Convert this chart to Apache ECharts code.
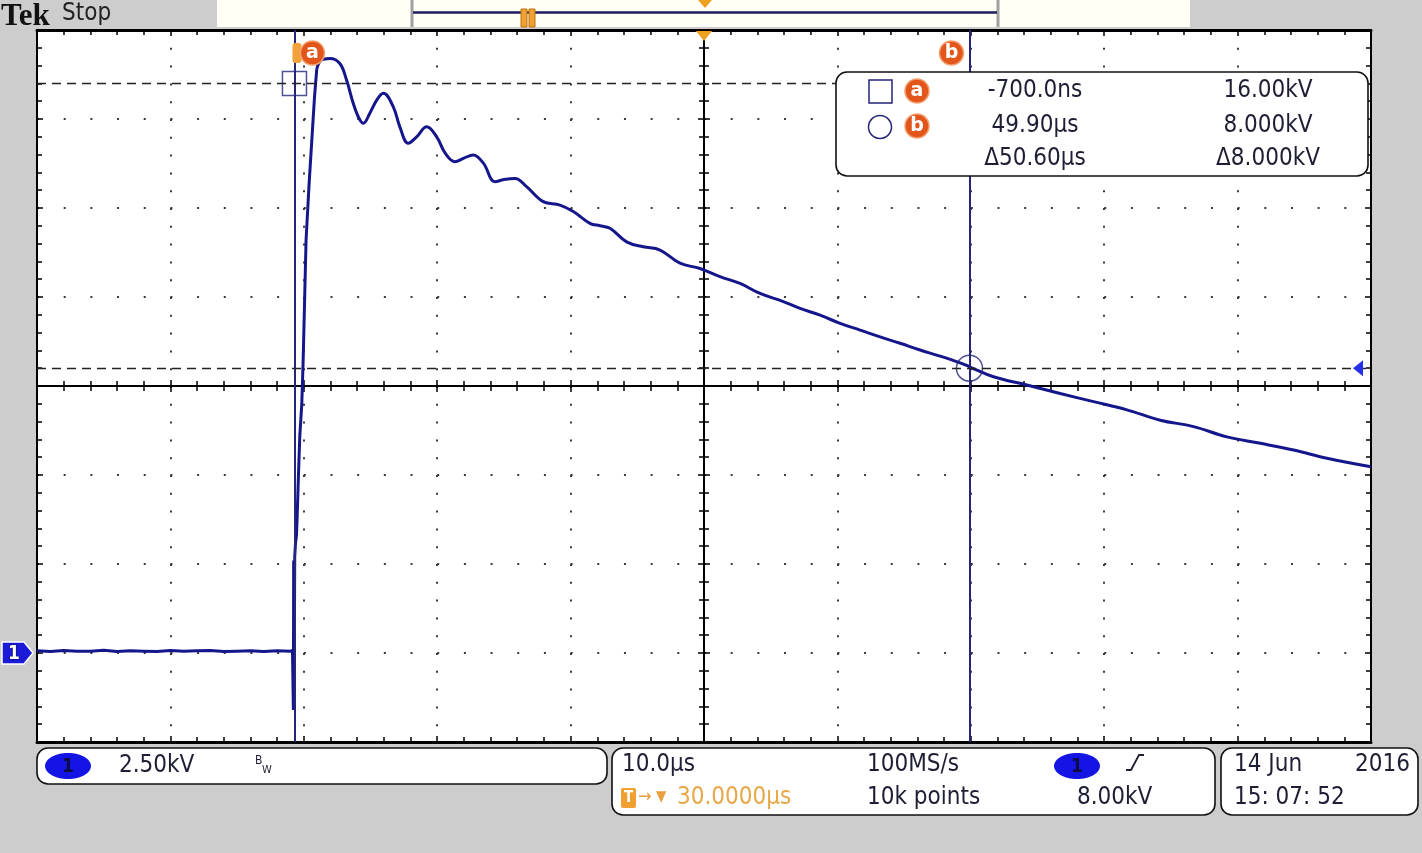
<!DOCTYPE html>
<html><head><meta charset="utf-8">
<script src="https://cdn.jsdelivr.net/npm/echarts@6/dist/echarts.min.js"></script>
<style>html,body{margin:0;padding:0;background:#cdcdcd;}#c{width:1422px;height:853px;}</style>
</head><body><div id="c"></div>
<script>
const timeUs = [-20,-19,-18,-17,-16,-15,-14,-13,-12,-11,-10,-9,-8,-7,-6,-5,-4,-3,-2,-1,-0.85,
 -0.8,-0.78,-0.76,-0.74,-0.72,-0.7,-0.68,-0.62,-0.55,-0.5,-0.4,-0.3,-0.15,-0.05,0.17,0.4,0.6,0.8,0.97,1.3,
 1.96,2.7,3.2,3.7,4.1,4.46,4.96,5.5,5.96,6.7,7.2,7.83,8.46,9.21,9.96,10.6,11.33,12.0,12.7,13.46,
 14.33,15.0,15.83,16.7,17.95,19.2,20.2,21.45,22.2,22.95,24.2,25.45,26.7,28.2,29.7,31.2,32.7,34.2,35.95,37.2,
 38.7,40.2,41.7,43.2,44.7,46.2,47.7,49.2,49.9,51.7,54.2,56.7,59.2,61.7,64.2,66.7,69.2,71.7,74.2,76.7,80];
const ch1Kv = [0.06,0.04,0.07,0.05,0.05,0.08,0.04,0.06,0.05,0.04,0.07,0.05,0.06,0.07,0.04,0.05,0.06,0.04,0.06,0.05,0.07,
 0.1,-1.6,2.6,0.8,2.4,1.0,2.7,3.1,3.3,3.8,5.0,6.1,7.0,8.2,11.6,13.2,14.4,15.6,16.4,16.65,
 16.7,16.56,16.1,15.45,15.05,14.88,15.17,15.55,15.72,15.35,14.78,14.32,14.5,14.78,14.5,14.04,13.8,13.9,13.99,13.76,
 13.24,13.3,13.33,13.1,12.68,12.58,12.4,12.07,12.0,11.93,11.55,11.41,11.32,10.95,10.8,10.57,10.38,10.1,9.87,9.68,
 9.49,9.26,9.07,8.88,8.7,8.51,8.34,8.15,8.04,7.76,7.53,7.29,7.06,6.83,6.54,6.36,6.07,5.89,5.7,5.47,5.23];
const edgeEndUs = 0.97; // end of the fast rising edge (drawn unsmoothed)
const cursorNames = ['a','b'];
const cursorTimeUs = [-0.7, 49.9];
const cursorKv = [16.0, 8.0];
const triggerTimeUs = 30;
const triggerLevelKv = 8.0;
const groundKv = 0;
const readoutTime = ['-700.0ns','49.90µs','Δ50.60µs'];
const readoutVolt = ['16.00kV','8.000kV','Δ8.000kV'];
const xRange = [-20, 80], xStep = 10;
const yRange = [-2.5, 17.5], yStep = 2.5;
const ch1Scale = '2.50kV';
const timebase = '10.0µs';
const triggerPosText = '30.0000µs';
const sampleRate = '100MS/s';
const recordLen = '10k points';
const trigLevelText = '8.00kV';
const dateText = ['14 Jun', '2016'];
const timeText = '15: 07: 52';

// ---- chart ----
const FONT = '"DejaVu Sans Condensed","Liberation Sans Narrow",sans-serif';
const TXT = '#1e1e34';
const WAVE = '#16168c';
const chart = echarts.init(document.getElementById('c'), null, {renderer:'canvas'});

function xAx(pos, offset, inside, split, lw) {
  return {type:'value', min:xRange[0], max:xRange[1], interval:xStep, position:pos, offset:offset,
    axisLine:{show:true, onZero:false, lineStyle:{color:'#000', width:lw}},
    axisTick:{show:true, inside:inside, length:6, lineStyle:{color:'#000', width:1.5}},
    minorTick:{show:true, splitNumber:5, length:5, lineStyle:{color:'#000', width:1.5}},
    axisLabel:{show:false},
    splitLine: split ? {show:true, lineStyle:{color:'#3a3a3a', width:2, type:[2,15.8]}} : {show:false},
    minorSplitLine:{show:false}};
}
function yAx(pos, offset, inside, split, lw) {
  return {type:'value', min:yRange[0], max:yRange[1], interval:yStep, position:pos, offset:offset,
    axisLine:{show:true, onZero:false, lineStyle:{color:'#000', width:lw}},
    axisTick:{show:true, inside:inside, length:6, lineStyle:{color:'#000', width:1.5}},
    minorTick:{show:true, splitNumber:5, length:5, lineStyle:{color:'#000', width:1.5}},
    axisLabel:{show:false},
    splitLine: split ? {show:true, lineStyle:{color:'#3a3a3a', width:2, type:[2,24.68]}} : {show:false},
    minorSplitLine:{show:false}};
}

const wave = timeUs.map((t, i) => [t, ch1Kv[i]]);
const k = timeUs.indexOf(edgeEndUs);
const edgePart = wave.slice(0, k + 1);
const tailPart = wave.slice(k);

chart.setOption({
  animation:false,
  backgroundColor:'#cdcdcd',
  grid:{left:37, top:30, width:1334, height:712, show:true, backgroundColor:'#ffffff', borderWidth:0},
  xAxis:[xAx('bottom',0,true,true,3), xAx('top',0,true,false,3), xAx('top',-356,true,false,2), xAx('bottom',-356,true,false,2)],
  yAxis:[yAx('left',0,true,true,2), yAx('right',0,true,false,2), yAx('left',-667,true,false,2), yAx('right',-667,true,false,2)],
  series:[
    {name:'CH1', type:'line', data:edgePart, showSymbol:false, symbol:'none', z:3,
     lineStyle:{color:WAVE, width:3}, silent:true,
     markLine:{silent:true, symbol:['none','none'], label:{show:false},
       data:[
         {xAxis:cursorTimeUs[0], lineStyle:{color:'#25257a', width:2, type:'solid'}},
         {xAxis:cursorTimeUs[1], lineStyle:{color:'#25257a', width:2, type:'solid'}},
         {yAxis:cursorKv[0], lineStyle:{color:'#222', width:1.3, type:[9,6]}},
         {yAxis:cursorKv[1], lineStyle:{color:'#222', width:1.3, type:[9,6]}}
       ]}},
    {name:'CH1 tail', type:'line', data:tailPart, showSymbol:false, symbol:'none', z:3, smooth:0.4,
     lineStyle:{color:WAVE, width:3}, silent:true},
    {name:'cursor a', type:'scatter', data:[[cursorTimeUs[0], cursorKv[0]]], symbol:'rect', symbolSize:24, z:4, silent:true,
     itemStyle:{color:'rgba(0,0,0,0)', borderColor:'#25257a', borderWidth:1.5}},
    {name:'cursor b', type:'scatter', data:[[cursorTimeUs[1], cursorKv[1]]], symbol:'circle', symbolSize:26, z:4, silent:true,
     itemStyle:{color:'rgba(0,0,0,0)', borderColor:'#25257a', borderWidth:1.5}}
  ]
});

const px = (t, v) => chart.convertToPixel({xAxisIndex:0, yAxisIndex:0}, [t, v]);
const pA = px(cursorTimeUs[0], cursorKv[0]);
const pB = px(cursorTimeUs[1], cursorKv[1]);
const pTrig = px(triggerTimeUs, triggerLevelKv);
const pGnd = px(xRange[0], groundKv);
const gridRight = px(xRange[1], yRange[1]);

function badge(cx, cy, letter) {
  return [
    {type:'circle', z:110, shape:{cx:cx, cy:cy, r:12}, style:{fill:'#e2561c', stroke:'#f4a070', lineWidth:1.5}},
    {type:'text', z:111, style:{text:letter, x:cx, y:cy, align:'center', verticalAlign:'middle', font:'bold 19px "DejaVu Sans",sans-serif', fill:'#fff'}}
  ];
}
function txt(s, x, y, opts) {
  return Object.assign({type:'text', z:111, style:Object.assign({text:s, x:x, y:y, align:'left', verticalAlign:'middle', font:'24px ' + FONT, fill:TXT}, opts || {})});
}
function rbox(x, y, w, h) {
  return {type:'rect', z:100, shape:{x:x, y:y, width:w, height:h, r:11}, style:{fill:'#fff', stroke:'#111', lineWidth:1.6}};
}
function chanOval(cx, cy) {
  return [
    {type:'ellipse', z:110, shape:{cx:cx, cy:cy, rx:23, ry:13}, style:{fill:'#1414e4'}},
    {type:'text', z:111, style:{text:'1', x:cx, y:cy + 1, align:'center', verticalAlign:'middle', font:'bold 19px ' + FONT, fill:'#0c0c40'}}
  ];
}

const els = [];
// top bar
els.push({type:'text', z:111, style:{text:'Tek', x:1, y:1, align:'left', verticalAlign:'top', font:'bold 31px "Liberation Serif","DejaVu Serif",serif', fill:'#111'}});
els.push({type:'text', z:111, style:{text:'Stop', x:62, y:14, align:'left', verticalAlign:'middle', font:'24px ' + FONT, fill:'#222'}});
els.push({type:'rect', z:100, shape:{x:217, y:0, width:973, height:27}, style:{fill:'#fffff6'}});
els.push({type:'line', z:101, shape:{x1:412, y1:0, x2:412, y2:27}, style:{stroke:'#a0a0a0', lineWidth:3}});
els.push({type:'line', z:101, shape:{x1:998, y1:0, x2:998, y2:27}, style:{stroke:'#a0a0a0', lineWidth:3}});
els.push({type:'line', z:102, shape:{x1:413, y1:12.5, x2:997, y2:12.5}, style:{stroke:'#1c1c5c', lineWidth:2.5}});
els.push({type:'rect', z:103, shape:{x:521, y:9, width:6, height:18}, style:{fill:'#f0a030', stroke:'#c07010', lineWidth:1}});
els.push({type:'rect', z:103, shape:{x:529, y:9, width:6, height:18}, style:{fill:'#f0a030', stroke:'#c07010', lineWidth:1}});
els.push({type:'polygon', z:103, shape:{points:[[698,0],[712,0],[705,8]]}, style:{fill:'#f0a020'}});
// trigger position marker on plot top
els.push({type:'polygon', z:105, shape:{points:[[pTrig[0]-8,31],[pTrig[0]+8,31],[pTrig[0],41]]}, style:{fill:'#f0a020'}});
// trigger level marker at right
els.push({type:'polygon', z:105, shape:{points:[[gridRight[0]-18,pTrig[1]],[gridRight[0]-8,pTrig[1]-8],[gridRight[0]-8,pTrig[1]+8]]}, style:{fill:'#2430e8'}});
// channel ground marker
els.push({type:'polygon', z:105, shape:{points:[[2,pGnd[1]-11],[24,pGnd[1]-11],[33,pGnd[1]],[24,pGnd[1]+11],[2,pGnd[1]+11]]}, style:{fill:'#1a1ad8', stroke:'#ffffff', lineWidth:1.5}});
els.push({type:'text', z:106, style:{text:'1', x:14, y:pGnd[1]+1, align:'center', verticalAlign:'middle', font:'bold 19px ' + FONT, fill:'#fff', stroke:'#0c0c50', lineWidth:1}});
// cursor handles + badges
els.push({type:'rect', z:108, shape:{x:pA[0]-2, y:43, width:9, height:20, r:3}, style:{fill:'#f2a238'}});
els.push(...badge(pA[0]+18, 53, cursorNames[0]));
els.push(...badge(pB[0]-18, 53, cursorNames[1]));
// readout box
els.push(rbox(836, 72, 532, 104));
els.push({type:'rect', z:110, shape:{x:869, y:80, width:23, height:23}, style:{fill:'none', stroke:'#25257a', lineWidth:1.5}});
els.push({type:'circle', z:110, shape:{cx:880, cy:127, r:11.5}, style:{fill:'none', stroke:'#25257a', lineWidth:1.5}});
els.push(...badge(917, 91, cursorNames[0]));
els.push(...badge(917, 126, cursorNames[1]));
[91,126,159].forEach((y, i) => {
  els.push(txt(readoutTime[i], 1035, y, {align:'center'}));
  els.push(txt(readoutVolt[i], 1268, y, {align:'center'}));
});
// bottom boxes
els.push(rbox(37, 748, 570, 36));
els.push(...chanOval(68, 766));
els.push(txt(ch1Scale, 119, 766));
els.push(txt('B', 255, 761, {font:'12px ' + FONT}));
els.push(txt('W', 262, 770, {font:'11px ' + FONT}));
els.push(rbox(612, 748, 603, 67));
els.push(txt(timebase, 622, 765));
els.push({type:'rect', z:110, shape:{x:621, y:788, width:15, height:20, r:2}, style:{fill:'#f0a030'}});
els.push(txt('T', 628.5, 798, {align:'center', font:'bold 15px ' + FONT, fill:'#fff'}));
els.push(txt('→', 638, 797, {font:'18px ' + FONT, fill:'#e8a040'}));
els.push(txt('▼', 656, 797, {font:'15px ' + FONT, fill:'#e8a040'}));
els.push(txt(triggerPosText, 677, 798, {fill:'#e8a848'}));
els.push(txt(sampleRate, 867, 765));
els.push(txt(recordLen, 867, 798));
els.push(...chanOval(1077, 766));
els.push({type:'polyline', z:111, shape:{points:[[1126,770],[1131,770],[1139,755],[1144,755]]}, style:{stroke:TXT, lineWidth:1.8, fill:'none'}});
els.push(txt(trigLevelText, 1077, 798));
els.push(rbox(1221, 748, 197, 67));
els.push(txt(dateText[0], 1234, 765));
els.push(txt(dateText[1], 1355, 765));
els.push(txt(timeText, 1234, 798));

chart.setOption({graphic:{elements:els}});
</script></body></html>
